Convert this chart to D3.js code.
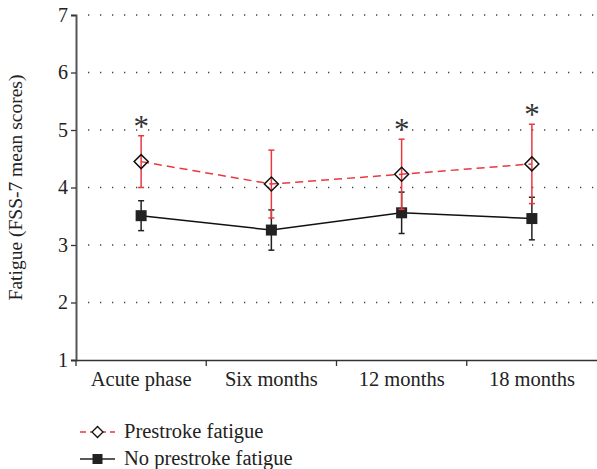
<!DOCTYPE html>
<meta charset="utf-8">
<script src="https://d3js.org/d3.v7.min.js"></script>
<style>
  body { margin: 0; background: #fff; }
  text { font-family: "Liberation Serif", "DejaVu Serif", serif; fill: #222; }
</style>
<div id="chart"></div>
<script>
// data
var phases = ["Acute phase", "Six months", "12 months", "18 months"];
var prestrokeMean = [4.45, 4.06, 4.23, 4.41];
var prestrokeErr  = [0.45, 0.59, 0.61, 0.69];
var noPrestrokeMean = [3.51, 3.26, 3.56, 3.46];
var noPrestrokeErr  = [0.26, 0.35, 0.36, 0.37];
var significant = [true, false, true, true];
var yTicks = [1, 2, 3, 4, 5, 6, 7];

var W = 597, H = 469;
var mLeft = 76, mRight = 597, mTop = 15, mBottom = 360;

var svg = d3.select("#chart").append("svg")
  .attr("width", W).attr("height", H);

var x = d3.scaleBand().domain(phases).range([mLeft, mRight]).padding(0);
var y = d3.scaleLinear().domain([1, 7]).range([mBottom, mTop]);
var cx = function(i) { return x(phases[i]) + x.bandwidth() / 2; };

// dotted grid
svg.append("g").selectAll("line")
  .data(yTicks.filter(function(d) { return d > 1; }))
  .enter().append("line")
  .attr("x1", mLeft + 12).attr("x2", mRight)
  .attr("y1", function(d) { return y(d); })
  .attr("y2", function(d) { return y(d); })
  .style("stroke", "#444")
  .style("stroke-width", 1.3)
  .style("stroke-dasharray", "1.3,10.7");

// y axis
var yAxis = svg.append("g")
  .attr("transform", "translate(" + mLeft + ",0)")
  .call(d3.axisLeft(y).tickValues(yTicks).tickSize(5).tickFormat(d3.format("d")));
yAxis.select(".domain").style("stroke", "#555").style("stroke-width", 2);
yAxis.selectAll(".tick line").style("stroke", "#333").style("stroke-width", 1.3);
yAxis.selectAll("text").style("font-size", "20px").attr("x", -8);

// x axis
var xAxis = svg.append("g")
  .attr("transform", "translate(0," + mBottom + ")")
  .call(d3.axisBottom(x).tickSize(0));
xAxis.select(".domain").style("stroke", "#333").style("stroke-width", 1.5);
xAxis.selectAll("text").style("font-size", "20.5px").attr("y", 11);
svg.append("g").selectAll("line")
  .data(phases)
  .enter().append("line")
  .attr("x1", function(d) { return x(d); })
  .attr("x2", function(d) { return x(d); })
  .attr("y1", mBottom).attr("y2", mBottom + 6)
  .style("stroke", "#333").style("stroke-width", 1.3);

// y label
svg.append("text")
  .attr("transform", "translate(22," + ((mTop + mBottom) / 2) + ") rotate(-90)")
  .attr("text-anchor", "middle")
  .style("font-size", "19.5px")
  .text("Fatigue (FSS-7 mean scores)");

var red = "#e8393f";

function errorBars(means, errs, color) {
  var g = svg.append("g");
  means.forEach(function(m, i) {
    var xc = cx(i);
    g.append("line").attr("x1", xc).attr("x2", xc)
      .attr("y1", y(m + errs[i])).attr("y2", y(m - errs[i]))
      .style("stroke", color).style("stroke-width", 1.5);
    [m + errs[i], m - errs[i]].forEach(function(v) {
      g.append("line").attr("x1", xc - 3).attr("x2", xc + 3)
        .attr("y1", y(v)).attr("y2", y(v))
        .style("stroke", color).style("stroke-width", 1.5);
    });
  });
}

var line = d3.line()
  .x(function(d, i) { return cx(i); })
  .y(function(d) { return y(d); });

// no prestroke fatigue series
errorBars(noPrestrokeMean, noPrestrokeErr, "#222");
svg.append("path").datum(noPrestrokeMean)
  .attr("d", line)
  .style("fill", "none").style("stroke", "#111").style("stroke-width", 1.5);
svg.append("g").selectAll("rect")
  .data(noPrestrokeMean).enter().append("rect")
  .attr("x", function(d, i) { return cx(i) - 5.5; })
  .attr("y", function(d) { return y(d) - 5.5; })
  .attr("width", 11).attr("height", 11)
  .style("fill", "#222");

// prestroke fatigue series
errorBars(prestrokeMean, prestrokeErr, red);
svg.append("path").datum(prestrokeMean)
  .attr("d", line)
  .style("fill", "none").style("stroke", red).style("stroke-width", 1.5)
  .style("stroke-dasharray", "8,5");
var diamond = d3.symbol().type(d3.symbolSquare).size(98);
svg.append("g").selectAll("path")
  .data(prestrokeMean).enter().append("path")
  .attr("d", diamond)
  .attr("transform", function(d, i) { return "translate(" + cx(i) + "," + y(d) + ") rotate(45)"; })
  .style("fill", "none").style("stroke", "#111").style("stroke-width", 1.5);

// significance asterisks
var stars = phases.map(function(p, i) { return i; })
  .filter(function(i) { return significant[i]; });
svg.append("g").selectAll("text")
  .data(stars).enter().append("text")
  .attr("x", function(i) { return cx(i); })
  .attr("y", function(i) { return y(prestrokeMean[i] + prestrokeErr[i]) + 1; })
  .attr("text-anchor", "middle")
  .style("font-size", "31px")
  .style("fill", "#333")
  .text("*");

// legend
var legend = [
  { label: "Prestroke fatigue", color: red, dash: "6,4", mark: "diamond" },
  { label: "No prestroke fatigue", color: "#222", dash: null, mark: "square" }
];
var lg = svg.append("g").selectAll("g")
  .data(legend).enter().append("g")
  .attr("transform", function(d, i) { return "translate(80," + (432 + i * 27) + ")"; });
lg.append("line").attr("x1", 0).attr("x2", 35)
  .style("stroke", function(d) { return d.color; })
  .style("stroke-width", 1.5)
  .style("stroke-dasharray", function(d) { return d.dash; });
lg.filter(function(d) { return d.mark == "diamond"; })
  .append("path").attr("d", d3.symbol().type(d3.symbolSquare).size(60))
  .attr("transform", "translate(17.5,0) rotate(45)")
  .style("fill", "#fff").style("stroke", "#111").style("stroke-width", 1.3);
lg.filter(function(d) { return d.mark == "square"; })
  .append("rect").attr("x", 12.5).attr("y", -5).attr("width", 10).attr("height", 10)
  .style("fill", "#222");
lg.append("text").attr("x", 44).attr("y", 6)
  .style("font-size", "20.5px")
  .text(function(d) { return d.label; });
</script>
